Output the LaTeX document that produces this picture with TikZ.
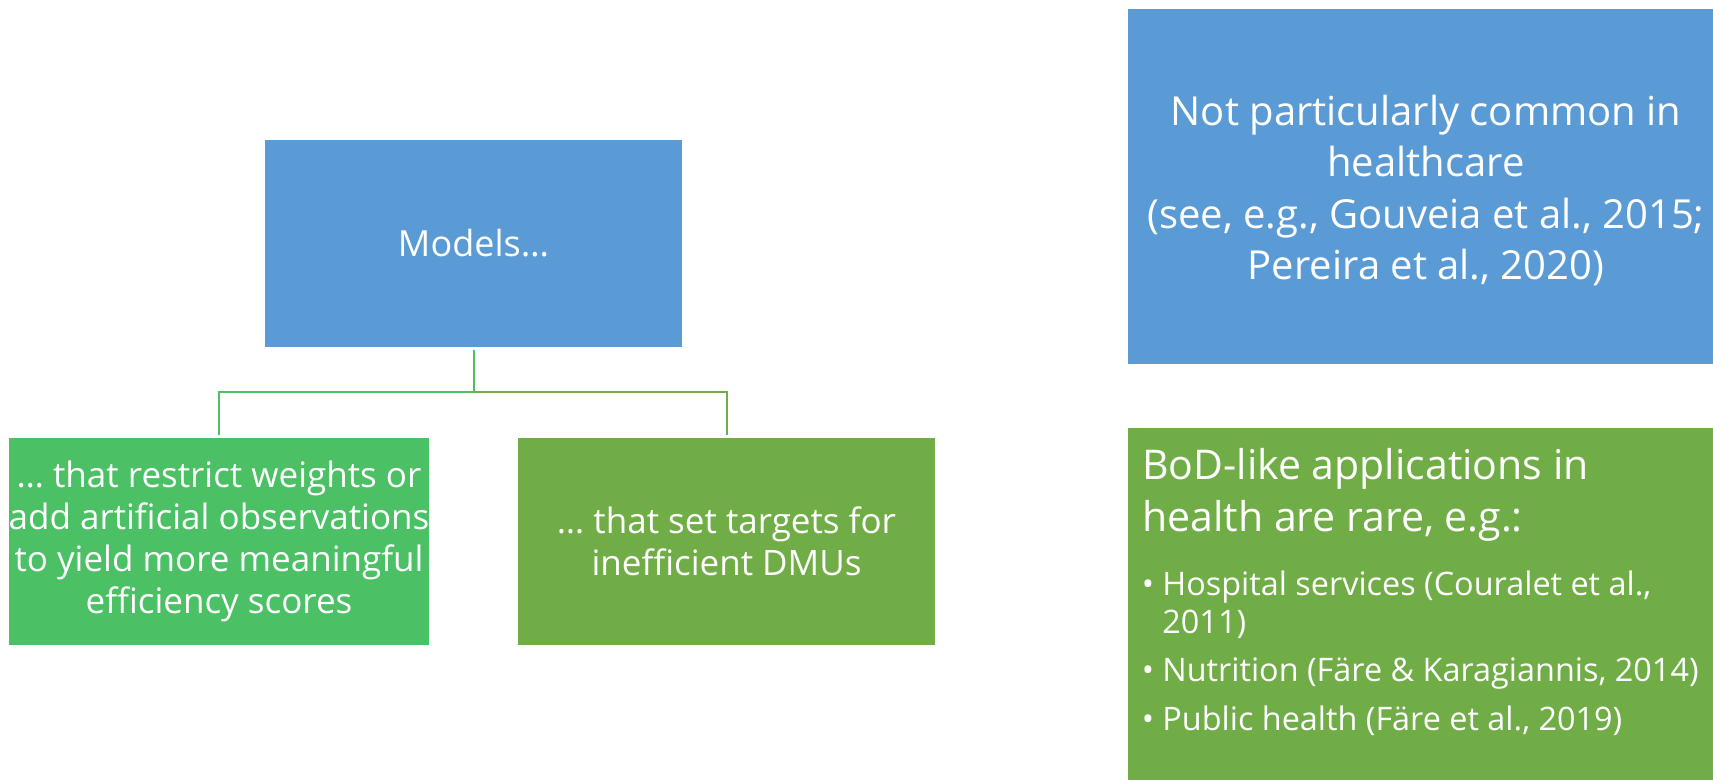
\documentclass[tikz,border=0pt]{standalone}
\usepackage{fontspec}
\setmainfont{Open Sans}
\definecolor{boxblue}{HTML}{5B9BD5}
\definecolor{leafgreen}{HTML}{4BC065}
\definecolor{olivegreen}{HTML}{70AD47}
\tikzset{
  panel/.style={fill=#1, draw=none, inner sep=0pt, text=white, align=center},
  link/.style={draw=#1, line width=1pt},
  bodytext/.style={text=white, inner sep=0pt, anchor=base west},
  headfont/.style={font=\fontsize{20.5}{25}\selectfont},
  itemfont/.style={font=\fontsize{16.2}{20}\selectfont},
}
\begin{document}
\begin{tikzpicture}[x=0.5pt, y=-0.5pt]
\useasboundingbox (0,0) rectangle (1713,780);

% hierarchy on the left
\node[panel=boxblue, minimum width=208.5pt, minimum height=103.5pt,
      font=\fontsize{18}{21}\selectfont] (models) at (473.5,243.5) {Models…};
\node[panel=leafgreen, minimum width=208pt, minimum height=103.5pt,
      font=\fontsize{17.5}{21}\selectfont] (restrict) at (219,541.5)
  {… that restrict weights or\\add artificial observations\\to yield more meaningful\\efficiency scores};
\node[panel=olivegreen, minimum width=208.5pt, minimum height=103.5pt,
      font=\fontsize{17.5}{21}\selectfont] (targets) at (726.5,541.5)
  {… that set targets for\\inefficient DMUs};

\coordinate (hub) at (473.5,392);
\draw[link=leafgreen, shorten <=1.5pt] (models.south) -- (hub);
\draw[link=leafgreen, shorten >=1.5pt] (hub) -| (restrict.north);
\draw[link=olivegreen, shorten >=1.5pt] (hub) -| (targets.north);

% notes on the right
\node[panel=boxblue, minimum width=298pt, minimum height=177.5pt] (common) at (1426,186.5) {};
\node[panel=boxblue, fill=none, font=\fontsize{20}{25.8}\selectfont] (commontext) at (1426,190.5)
  {Not particularly common in\\healthcare\\(see, e.g., Gouveia et al., 2015;\\Pereira et al., 2020)};

\node[panel=olivegreen, minimum width=298pt, minimum height=181pt] (bod) at (1426,609) {};
\node[bodytext, headfont] (bodhead1) at (1142,480) {BoD-like applications in};
\node[bodytext, headfont] (bodhead2) at (1142,531) {health are rare, e.g.:};
\node[bodytext, itemfont, anchor=base] (dot1) at (1148,595) {•};
\node[bodytext, itemfont] (item1) at (1162,595) {Hospital services (Couralet et al.,};
\node[bodytext, itemfont] (item1b) at (1162,633) {2011)};
\node[bodytext, itemfont, anchor=base] (dot2) at (1148,681) {•};
\node[bodytext, itemfont] (item2) at (1162,681) {Nutrition (Färe \& Karagiannis, 2014)};
\node[bodytext, itemfont, anchor=base] (dot3) at (1148,730) {•};
\node[bodytext, itemfont] (item3) at (1162,730) {Public health (Färe et al., 2019)};
\end{tikzpicture}
\end{document}
